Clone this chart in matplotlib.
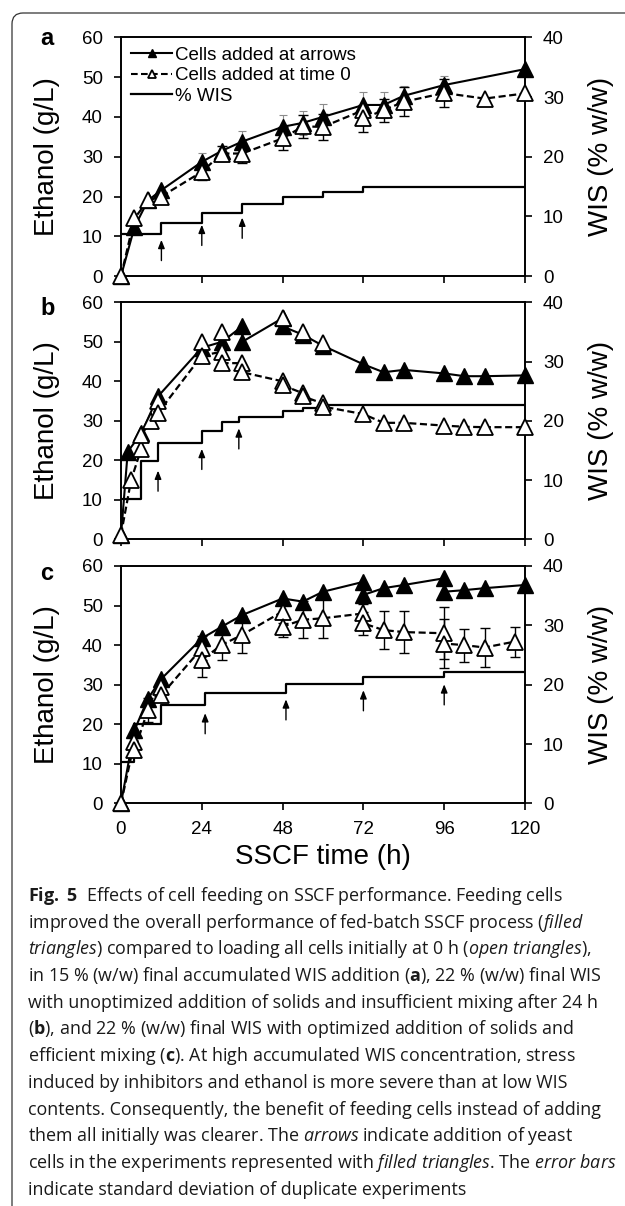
import numpy as np
import matplotlib
matplotlib.use('Agg')
import matplotlib.pyplot as plt
from matplotlib.path import Path
from matplotlib.patches import PathPatch
from matplotlib.lines import Line2D

plt.rcParams['font.family'] = ['Liberation Sans', 'DejaVu Sans']
plt.rcParams['mathtext.fontset'] = 'custom'
plt.rcParams['mathtext.rm'] = 'Open Sans'
plt.rcParams['mathtext.it'] = 'Open Sans:italic'
plt.rcParams['mathtext.bf'] = 'Open Sans:bold'

# ---- panel a : 15 % WIS ----
a_fill_t = [0, 4, 8, 12, 24, 30, 36, 48, 54, 60, 72, 78, 84, 96, 120]
a_fill = [0, 12.3, 19.0, 21.6, 28.7, 31.5, 33.8, 37.5, 38.5, 40.0, 43.0, 43.0, 45.3, 48.0, 52.0]
a_fill_err = [0, 0, 0, 0, 2.2, 0, 2.7, 3.0, 3.0, 3.3, 3.2, 3.3, 2.5, 2.3, 0]
a_open_t = [0, 4, 8, 12, 24, 30, 36, 48, 54, 60, 72, 72, 78, 84, 96, 108, 120]
a_open = [0, 14.5, 19.0, 20.0, 26.2, 30.8, 30.8, 34.6, 37.6, 37.5, 41.7, 39.6, 41.7, 43.8, 46.0, 44.6, 45.9]
a_open_err = [0, 0, 0, 0, 2.0, 2.0, 2.3, 2.8, 3.0, 3.2, 0, 3.3, 2.9, 3.6, 3.6, 0, 0]
a_wis_t = [0, 12, 24, 36, 48, 60, 72, 120]
a_wis = [7.0, 8.9, 10.5, 12.0, 13.3, 14.1, 15.0, 15.0]
a_arrow_t = [12, 24, 36]
a_arrow_tip = [9.1, 12.9, 14.7]

# ---- panel b : 22 % WIS, poor mixing ----
b_fill_t = [0, 2, 6, 11, 24, 30, 36, 36, 48, 48, 54, 60, 72, 78, 84, 96, 102, 108, 120]
b_fill = [1.0, 22.2, 26.8, 36.2, 48.5, 50.0, 53.9, 50.0, 56.0, 53.9, 51.8, 49.0, 44.3, 42.3, 42.9, 42.0, 41.3, 41.3, 41.5]
b_open_t = [0, 3, 6, 6, 9, 11, 11, 24, 30, 30, 36, 36, 48, 48, 54, 54, 60, 60,
            72, 78, 84, 96, 102, 108, 120]
b_open = [1.2, 15.0, 22.9, 26.5, 30.0, 35.0, 32.0, 46.5, 47.5, 44.6, 44.6, 42.3, 40.0, 39.0,
          37.0, 36.2, 34.4, 33.6, 31.7, 29.5, 29.5, 28.8, 28.5, 28.4, 28.4]
b_upper_t = [24, 30, 48, 54, 60]
b_upper = [50.0, 52.6, 56.0, 52.6, 49.8]
b_wis_t = [0, 6, 11, 24, 30, 35, 48, 54, 60, 120]
b_wis = [6.9, 13.2, 16.3, 18.3, 19.8, 20.7, 21.6, 22.1, 22.7, 22.7]
b_arrow_t = [11, 24, 35]
b_arrow_tip = [17.4, 22.9, 28.1]

# ---- panel c : 22 % WIS, optimized ----
c_fill_t = [0, 4, 8, 12, 24, 30, 36, 48, 54, 60, 72, 72, 78, 84, 96, 96, 102, 108, 120]
c_fill = [0, 18.5, 26.5, 31.5, 41.7, 44.7, 47.6, 51.8, 51.0, 53.5, 56.0, 52.7, 54.4, 55.2,
          56.9, 53.5, 53.9, 54.4, 55.2]
c_open_t = [0, 4, 4, 8, 12, 12, 24, 24, 30, 36, 48, 48, 54, 60, 72, 72, 78, 84, 96, 96, 102, 108, 117]
c_open = [0, 15.6, 13.5, 23.6, 29.5, 27.4, 39.2, 36.3, 40.1, 42.6, 48.5, 44.7, 46.4, 46.8,
          48.0, 45.5, 43.8, 43.3, 43.0, 40.4, 40.0, 39.4, 40.9]
c_open_err = [0, 1.0, 1.0, 3.0, 1.5, 1.5, 3.0, 4.3, 3.8, 4.7, 3.0, 2.6, 4.7, 4.9, 2.5, 3.0,
              4.9, 5.3, 6.6, 6.3, 4.2, 4.9, 3.8]
c_wis_t = [0, 4, 12, 25, 49, 72, 96, 120]
c_wis = [6.9, 13.3, 16.6, 18.6, 20.1, 21.3, 22.2, 22.2]
c_arrow_t = [25, 49, 72, 96]
c_arrow_tip = [22.8, 26.3, 28.6, 30.1]

x_ticks = [0, 24, 48, 72, 96, 120]
legend_labels = ['Cells added at arrows', 'Cells added at time 0', '% WIS']

caption_lines = [
    r"$\mathbf{Fig.\ 5}$  Effects of cell feeding on SSCF performance. Feeding cells",
    r"improved the overall performance of fed-batch SSCF process ($\mathit{filled}$",
    r"$\mathit{triangles}$) compared to loading all cells initially at 0 h ($\mathit{open\ triangles}$),",
    r"in 15 % (w/w) final accumulated WIS addition ($\mathbf{a}$), 22 % (w/w) final WIS",
    r"with unoptimized addition of solids and insufficient mixing after 24 h",
    r"($\mathbf{b}$), and 22 % (w/w) final WIS with optimized addition of solids and",
    r"efficient mixing ($\mathbf{c}$). At high accumulated WIS concentration, stress",
    r"induced by inhibitors and ethanol is more severe than at low WIS",
    r"contents. Consequently, the benefit of feeding cells instead of adding",
    r"them all initially was clearer. The $\mathit{arrows}$ indicate addition of yeast",
    r"cells in the experiments represented with $\mathit{filled\ triangles}$. The $\mathit{error\ bars}$",
    r"indicate standard deviation of duplicate experiments",
]

W, H = 625, 1206
fig = plt.figure(figsize=(W / 100, H / 100), dpi=100)

DASH = (0, (3.2, 1.6))
MS = 12


def box(top, bottom):
    return [121 / W, 1 - bottom / H, 404 / W, (bottom - top) / H]


def draw_panel(ax, ft, fy, fe, ot, oy, oe, wt, wy, at, atip):
    ax2 = ax.twinx()
    ax2.step(wt, wy, where='post', color='k', lw=1.6)
    ax2.set_ylim(0, 40)
    ax2.set_yticks(range(0, 41, 10))
    ax.set_zorder(ax2.get_zorder() + 1)
    ax.patch.set_visible(False)

    ax.plot(ft, fy, color='k', lw=1.5, marker='^', ms=MS, mfc='k', mec='k',
            clip_on=False, zorder=3)
    if fe is not None:
        fe = np.asarray(fe)
        m = fe > 0
        ax.errorbar(np.asarray(ft)[m], np.asarray(fy)[m], yerr=fe[m], fmt='none',
                    ecolor='0.55', elinewidth=0.8, capsize=3, capthick=0.8, zorder=2.5)
    if oe is not None:
        oe = np.asarray(oe)
        m = oe > 0
        ax.errorbar(np.asarray(ot)[m], np.asarray(oy)[m], yerr=oe[m], fmt='none',
                    ecolor='k', elinewidth=1.0, capsize=3.5, capthick=1.0, zorder=4)
    ax.plot(ot, oy, color='k', lw=1.6, ls=DASH, marker='^', ms=MS, mfc='white',
            mec='k', mew=1.3, clip_on=False, zorder=5)

    for t, tip in zip(at, atip):
        ax.annotate('', xy=(t, tip), xytext=(t, tip - 5.2),
                    arrowprops=dict(arrowstyle='-|>,head_length=0.7,head_width=0.28',
                                    color='k', lw=1.0, shrinkA=0, shrinkB=0,
                                    mutation_scale=7))

    ax.set_xlim(0, 120)
    ax.set_ylim(0, 60)
    ax.set_xticks(x_ticks)
    ax.set_yticks(range(0, 61, 10))
    for a in (ax, ax2):
        a.tick_params(direction='out', length=5, width=1.2, labelsize=13.5, pad=8)
        for s in a.spines.values():
            s.set_linewidth(1.2)
    ax.set_ylabel('Ethanol (g/L)', fontsize=20)
    ax.yaxis.set_label_coords(-0.152, 0.5)
    ax2.set_ylabel('WIS (% w/w)', fontsize=20)
    ax2.yaxis.set_label_coords(1.156, 0.5)
    return ax2


ax_a = fig.add_axes(box(37.3, 276.1))
ax_b = fig.add_axes(box(302.3, 539.4))
ax_c = fig.add_axes(box(566.0, 803.4))

draw_panel(ax_a, a_fill_t, a_fill, a_fill_err, a_open_t, a_open, a_open_err,
           a_wis_t, a_wis, a_arrow_t, a_arrow_tip)
draw_panel(ax_b, b_fill_t, b_fill, None, b_open_t, b_open, None,
           b_wis_t, b_wis, b_arrow_t, b_arrow_tip)
ax_b.plot(b_upper_t, b_upper, ls='none', marker='^', ms=MS, mfc='white', mec='k',
          mew=1.3, clip_on=False, zorder=4.5)
draw_panel(ax_c, c_fill_t, c_fill, None, c_open_t, c_open, c_open_err,
           c_wis_t, c_wis, c_arrow_t, c_arrow_tip)

ax_a.tick_params(labelbottom=False)
ax_b.tick_params(labelbottom=False)
ax_c.set_xlabel('SSCF time (h)', fontsize=20, labelpad=4)

handles = [
    Line2D([], [], color='k', lw=1.5, marker='^', ms=MS, mfc='k', mec='k'),
    Line2D([], [], color='k', lw=1.5, ls=DASH, marker='^', ms=MS, mfc='white', mec='k', mew=1.3),
    Line2D([], [], color='k', lw=1.6),
]
ax_a.legend(handles, legend_labels, loc='upper left', bbox_to_anchor=(0.025, 0.96),
            frameon=False, fontsize=13.5, handlelength=2.2, handletextpad=0.15,
            labelspacing=0.18, borderpad=0, borderaxespad=0, markerscale=0.5, numpoints=1)

# panel letters
for letter, yb in (('a', 45), ('b', 315), ('c', 580)):
    fig.text(40 / W, 1 - yb / H, letter, fontsize=17, fontweight='bold', va='baseline')

# frame round the figure
verts = [(12 / W, 0), (12 / W, 1 - 24 / H), (12 / W, 1 - 13 / H), (23 / W, 1 - 13 / H), (1, 1 - 13 / H)]
codes = [Path.MOVETO, Path.LINETO, Path.CURVE3, Path.CURVE3, Path.LINETO]
fig.add_artist(PathPatch(Path(verts, codes), transform=fig.transFigure, fill=False,
                         lw=0.9, edgecolor='0.2'))

# caption
texts = []
for i, line in enumerate(caption_lines):
    texts.append(fig.text(28 / W, 1 - (901 + 26.7 * i) / H, line, fontsize=14,
                          family='Open Sans', va='baseline', ha='left', color='#1a1a1a'))
fig.canvas.draw()
r = fig.canvas.get_renderer()
maxw = max(t.get_window_extent(r).width for t in texts)
for t in texts:
    t.set_fontsize(14 * 592 / maxw)

fig.savefig('out.png', dpi=100)
